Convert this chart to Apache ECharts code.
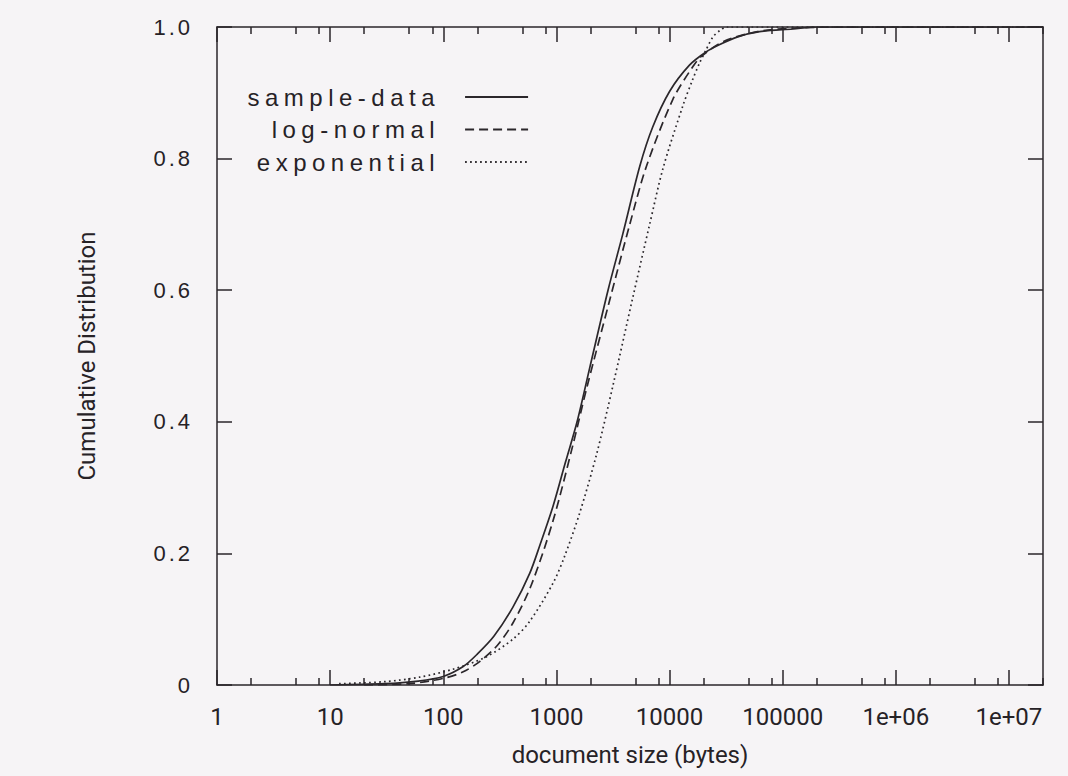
<!DOCTYPE html>
<html>
<head>
<meta charset="utf-8">
<title>document size CDF</title>
<style>
  html, body { margin: 0; padding: 0; background: #f6f4f6; }
  #chart { width: 1068px; height: 776px; }
  /* the scanned plot has wide letter spacing on the y tick labels and legend */
  #chart text[style*="Liberation"][style*="22px"] { letter-spacing: 3px; }
  #chart text[style*="Liberation"][style*="24px"] { letter-spacing: 5.5px; }
</style>
<script src="https://cdn.jsdelivr.net/npm/echarts@6/dist/echarts.min.js"></script>
</head>
<body>
<div id="chart"></div>
<script>
// document size (bytes) vs cumulative fraction
var sampleSize = [10, 30, 60, 100, 150, 200, 280, 415, 582, 713, 935, 1200, 1523, 1970, 2860, 3870, 5450, 7100, 10000, 15000, 21000, 27500, 40000, 62400, 123000, 200000, 20000000];
var sampleCdf  = [0, 0.002, 0.006, 0.013, 0.028, 0.047, 0.074, 0.119, 0.17, 0.212, 0.272, 0.338, 0.4, 0.482, 0.6, 0.686, 0.788, 0.848, 0.902, 0.942, 0.962, 0.973, 0.985, 0.993, 0.997, 1, 1];

var lognormSize = [20, 50, 100, 150, 211, 300, 415, 600, 935, 1400, 1845, 2960, 4450, 6240, 10700, 16100, 19000, 30000, 60000, 120000, 300000, 20000000];
var lognormCdf  = [0, 0.002, 0.01, 0.02, 0.036, 0.06, 0.095, 0.152, 0.25, 0.365, 0.45, 0.585, 0.7, 0.788, 0.89, 0.94, 0.955, 0.978, 0.993, 0.998, 1, 1];

var expSize = [12, 30, 62, 122, 241, 415, 582, 935, 1190, 1610, 2260, 3160, 4750, 6670, 8750, 13100, 16000, 18400, 21000, 24200, 28000, 32000, 20000000];
var expCdf  = [0.002, 0.005, 0.012, 0.024, 0.043, 0.07, 0.097, 0.155, 0.197, 0.262, 0.35, 0.455, 0.59, 0.7, 0.785, 0.88, 0.92, 0.945, 0.965, 0.985, 0.995, 1, 1];

var seriesNames = ['sample-data', 'log-normal', 'exponential'];
var xMin = 1, xMax = 2e7;
var majorMantissa = [1];
var minorMantissa = [2, 5, 8];

var ink = '#2b272b';
var axisColor = '#2a262a';
var textColor = '#262226';

function pairs(xs, ys) {
  return xs.map(function (x, i) { return [x, ys[i]] })
}

// tick positions expressed in decades, for the plain value axes that only draw ticks
function decadeTicks(mantissas) {
  var out = [];
  for (var k = 0; k <= 7; k++) {
    mantissas.forEach(function (m) {
      var v = k + Math.log10(m);
      if (v <= Math.log10(xMax)) out.push(v)
    })
  }
  return out
}

function tickAxis(position, values, len) {
  return {
    type: 'value',
    position: position,
    min: 0,
    max: Math.log10(xMax),
    axisLine: { show: false, onZero: false },
    axisLabel: { show: false },
    splitLine: { show: false },
    axisTick: {
      show: true,
      inside: true,
      length: len,
      customValues: values,
      lineStyle: { color: axisColor, width: 1.5 }
    }
  }
}

function cdfSeries(name, xs, ys, dash) {
  return {
    name: name,
    type: 'line',
    symbol: 'none',
    smooth: 0.3,
    lineStyle: { color: ink, width: 1.7, type: dash },
    data: pairs(xs, ys)
  }
}

var chart = echarts.init(document.getElementById('chart'), null, { renderer: 'svg' });

chart.setOption({
  animation: false,
  backgroundColor: '#f6f4f6',
  grid: { left: 217, right: 25, top: 27, bottom: 91 },
  legend: {
    data: seriesNames,
    orient: 'vertical',
    left: 303,
    top: 80,
    align: 'right',
    itemWidth: 63,
    itemHeight: 14,
    itemGap: 8.5,
    itemStyle: { opacity: 0 },
    textStyle: {
      fontFamily: 'Liberation Sans',
      fontSize: 24,
      color: textColor,
      padding: [0, 20, 0, 0]
    }
  },
  xAxis: [
    {
      type: 'log',
      logBase: 10,
      min: xMin,
      max: xMax,
      position: 'bottom',
      name: 'document size (bytes)',
      nameLocation: 'middle',
      nameGap: 58,
      nameTextStyle: { fontFamily: 'Roboto', fontSize: 24, color: textColor },
      axisLine: { show: true, onZero: false, lineStyle: { color: axisColor, width: 1.5 } },
      axisTick: { show: false },
      splitLine: { show: false },
      axisLabel: {
        margin: 20,
        showMaxLabel: false,
        fontFamily: 'Roboto',
        fontSize: 24,
        color: textColor,
        formatter: function (v) {
          var p = Math.round(Math.log10(v));
          return p >= 6 ? '1e+0' + p : String(Math.round(v))
        }
      }
    },
    tickAxis('bottom', decadeTicks(majorMantissa), 15),
    tickAxis('bottom', decadeTicks(minorMantissa), 7),
    {
      type: 'log',
      logBase: 10,
      min: xMin,
      max: xMax,
      position: 'top',
      axisLine: { show: true, onZero: false, lineStyle: { color: axisColor, width: 1.5 } },
      axisTick: { show: false },
      axisLabel: { show: false },
      splitLine: { show: false }
    },
    tickAxis('top', decadeTicks(majorMantissa), 15),
    tickAxis('top', decadeTicks(minorMantissa), 7)
  ],
  yAxis: [
    {
      type: 'value',
      position: 'left',
      min: 0,
      max: 1,
      interval: 0.2,
      name: 'Cumulative Distribution',
      nameLocation: 'middle',
      nameGap: 118,
      nameTextStyle: { fontFamily: 'Roboto', fontSize: 24, color: textColor },
      axisLine: { show: true, onZero: false, lineStyle: { color: axisColor, width: 1.5 } },
      axisTick: { show: true, inside: true, length: 15, lineStyle: { color: axisColor, width: 1.5 } },
      splitLine: { show: false },
      axisLabel: {
        margin: 24,
        fontFamily: 'Liberation Sans',
        fontSize: 22,
        color: textColor,
        formatter: function (v) { return v === 0 ? '0' : v.toFixed(1) }
      }
    },
    {
      type: 'value',
      position: 'right',
      min: 0,
      max: 1,
      interval: 0.2,
      axisLine: { show: true, onZero: false, lineStyle: { color: axisColor, width: 1.5 } },
      axisTick: { show: true, inside: true, length: 15, lineStyle: { color: axisColor, width: 1.5 } },
      axisLabel: { show: false },
      splitLine: { show: false }
    }
  ],
  series: [
    cdfSeries(seriesNames[0], sampleSize, sampleCdf, 'solid'),
    cdfSeries(seriesNames[1], lognormSize, lognormCdf, [9, 5]),
    cdfSeries(seriesNames[2], expSize, expCdf, [1.7, 3.3])
  ]
});
</script>
</body>
</html>
